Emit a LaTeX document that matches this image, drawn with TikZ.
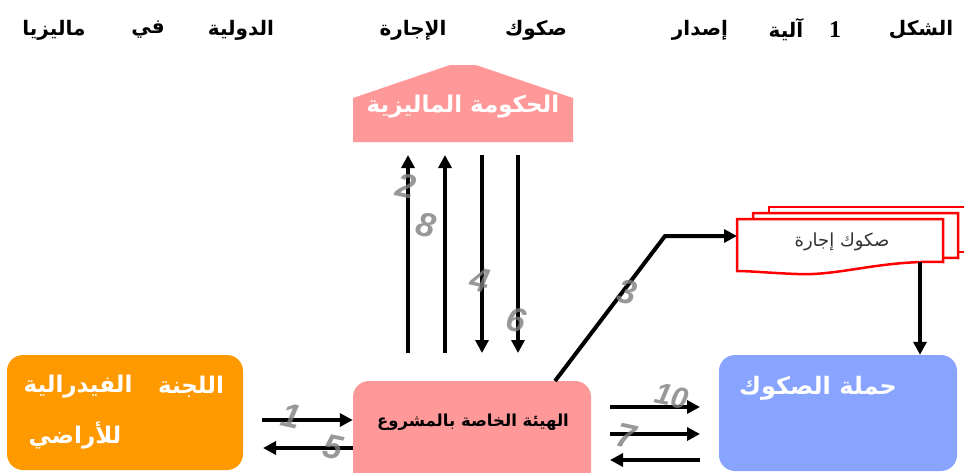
\documentclass[tikz,border=0pt]{standalone}
\usepackage{fontspec}
\setmainfont{Liberation Serif}
\setsansfont{Liberation Sans}
\newfontfamily\arabicfont[Script=Arabic]{DejaVu Sans}
\TeXXeTstate=1
\usetikzlibrary{arrows.meta,calc}
\definecolor{orangeC}{HTML}{FF9900}
\definecolor{pinkC}{HTML}{FF9999}
\definecolor{blueC}{HTML}{88A4FF}
\definecolor{redC}{HTML}{FF0000}
\definecolor{numC}{HTML}{7F7F7F}
\newcommand{\artext}[1]{\arabicfont\beginR #1\endR}
\tikzset{
  arr/.style={line width=4pt, -{Triangle[length=13pt,width=13pt]}},
  titleword/.style={inner sep=0pt, font=\fontsize{20}{24}\selectfont\bfseries},
  boxshape/.style={draw=none, rounded corners=16pt, inner sep=0pt},
  whitelabel/.style={inner sep=0pt, text=white, font=\fontsize{23}{26}\selectfont\bfseries},
  num/.style={inner sep=0pt, text=numC, opacity=0.8, font=\sffamily\fontsize{34}{34}\selectfont\bfseries\itshape, rotate=-12},
  docsheet/.style={draw=redC, line width=2.5pt, fill=white, line join=miter}
}
\begin{document}
\begin{tikzpicture}[x=1pt,y=-1pt]
\clip (0,0) rectangle (964,472);
\fill[white] (0,0) rectangle (964,472);

% title
\node[titleword] (t1) at (921,30) {\artext{الشكل}};
\node[titleword, font=\fontsize{24}{24}\selectfont\bfseries] (t2) at (835,30) {1};
\node[titleword] (t3) at (786,30) {\artext{آلية}};
\node[titleword] (t4) at (700,30) {\artext{إصدار}};
\node[titleword] (t5) at (536,30) {\artext{صكوك}};
\node[titleword] (t6) at (413,30) {\artext{الإجارة}};
\node[titleword] (t7) at (241,30) {\artext{الدولية}};
\node[titleword] (t8) at (148,30) {\artext{في}};
\node[titleword] (t9) at (54,30) {\artext{ماليزيا}};

% government pentagon
\fill[pinkC] (353,142) -- (353,98) -- (450,65) -- (476,65) -- (573,98) -- (573,142) -- cycle;
\node[whitelabel] (gov) at (463,107) {\artext{الحكومة الماليزية}};

% boxes
\node[boxshape, fill=orangeC, minimum width=236pt, minimum height=115pt] (lands) at (125,412.5) {};
\node[whitelabel] (lands1) at (191,387) {\artext{اللجنة}};
\node[whitelabel] (lands2) at (78,387) {\artext{الفيدرالية}};
\node[whitelabel] (lands3) at (75,435) {\artext{للأراضي}};

\node[boxshape, fill=pinkC, minimum width=238pt, minimum height=119pt] (spv) at (472,440.5) {};
\node[inner sep=0pt, font=\fontsize{16.5}{19}\selectfont\bfseries] (spvt) at (473,422) {\artext{الهيئة الخاصة بالمشروع}};

\node[boxshape, fill=blueC, minimum width=238pt, minimum height=116pt] (holders) at (838,413) {};
\node[whitelabel, font=\fontsize{24}{26}\selectfont\bfseries] (holderst) at (818,388) {\artext{حملة الصكوك}};

% document stack
\draw[docsheet] (769,207) -- (990,207) -- (990,252) -- (958,252) -- (958,258) -- (769,258) -- cycle;
\draw[docsheet] (753,213) -- (958,213) -- (958,258) .. controls (900,256) and (850,268) .. (810,268) .. controls (780,268) and (765,265) .. (753,265) -- cycle;
\draw[docsheet] (737,219) -- (943,219) -- (943,262) .. controls (880,260) and (840,276) .. (797,274) .. controls (770,273) and (750,271) .. (737,271) -- cycle;
\node[inner sep=0pt, text=black!80, font=\fontsize{18}{20}\selectfont] (doc) at (842,242) {\artext{صكوك إجارة}};

% named free ends
\coordinate (v1b) at (408,353); \coordinate (v1t) at (408,155);
\coordinate (v2b) at (445,353); \coordinate (v2t) at (445,155);
\coordinate (v3b) at (482,353); \coordinate (v3t) at (482,155);
\coordinate (v4b) at (518,353); \coordinate (v4t) at (518,155);
\coordinate (l1) at (262,420);
\coordinate (l5) at (263,448);
\coordinate (r10a) at (610,407); \coordinate (r10b) at (700,407);
\coordinate (r7a) at (610,434);  \coordinate (r7b) at (700,434);
\coordinate (rba) at (700,460);  \coordinate (rbb) at (610,460);
\coordinate (p3) at (555,381);
\coordinate (bend3) at (665,236);
\coordinate (docin) at (737,236);
\coordinate (docout) at (920,262);

% connectors
\draw[arr] (v1b) -- (v1t);
\draw[arr] (v2b) -- (v2t);
\draw[arr] (v3t) -- (v3b);
\draw[arr] (v4t) -- (v4b);
\draw[arr] (l1) -- (l1 -| spv.west);
\draw[arr] (l5 -| spv.west) -- (l5);
\draw[arr] (r10a) -- (r10b);
\draw[arr] (r7a) -- (r7b);
\draw[arr] (rba) -- (rbb);
\draw[arr, line join=miter] (p3) -- (bend3) -- (docin);
\draw[arr] (docout) -- (docout |- holders.north);

% step numbers
\node[num] (n1) at (291,416) {1};
\node[num] (n5) at (333,447) {5};
\node[num] (n2) at (406,186) {2};
\node[num] (n8) at (426,225) {8};
\node[num] (n4) at (480,280) {4};
\node[num] (n6) at (516,320) {6};
\node[num] (n3) at (627,292) {3};
\node[num, font=\sffamily\fontsize{30}{30}\selectfont\bfseries\itshape] (n10) at (672,396) {10};
\node[num] (n7) at (626,436) {7};
\end{tikzpicture}
\end{document}
